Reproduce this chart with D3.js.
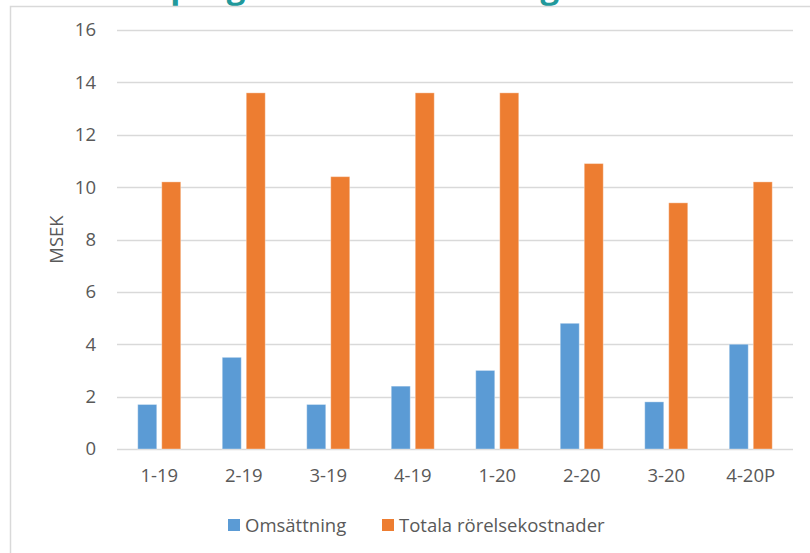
<!DOCTYPE html>
<html>
<head>
<meta charset="utf-8">
<script src="https://cdn.jsdelivr.net/npm/d3@7"></script>
<style>
  html, body { margin: 0; padding: 0; background: #fff; }
  svg { display: block; }
  text { font-family: "Open Sans", "Noto Sans", sans-serif; }
</style>
</head>
<body>
<svg id="chart" width="810" height="553"></svg>
<script>
// Quarterly figures, MSEK
const quarters = ["1-19", "2-19", "3-19", "4-19", "1-20", "2-20", "3-20", "4-20P"];
const omsattning = [1.7, 3.5, 1.7, 2.4, 3.0, 4.8, 1.8, 4.0];
const kostnader = [10.2, 13.6, 10.4, 13.6, 13.6, 10.9, 9.4, 10.2];
const seriesNames = ["Omsättning", "Totala rörelsekostnader"];
const seriesColors = ["#5b9bd5", "#ed7d31"];
const yTicks = [0, 2, 4, 6, 8, 10, 12, 14, 16];
const titleText = "Utfall och prognos för omsättning";

const svg = d3.select("#chart");
const W = 810, H = 553;
const FS = 18.5;

// Title sits above the chart frame
svg.append("text")
  .attr("x", 2)
  .attr("y", -2)
  .attr("fill", "#21999b")
  .attr("font-weight", "bold")
  .attr("font-size", 33)
  .text(titleText);

// Chart area frame
svg.append("rect")
  .attr("x", 10.5).attr("y", 6.5)
  .attr("width", W + 10).attr("height", H + 10)
  .attr("fill", "#fff")
  .attr("stroke", "#d9d9d9")
  .attr("stroke-width", 1.5);

const plot = { left: 117, right: 793, top: 30, bottom: 449 };

const x = d3.scaleBand().domain(quarters).range([plot.left, plot.right]).padding(0);
const y = d3.scaleLinear().domain([0, 16]).range([plot.bottom, plot.top]);

// Gridlines
svg.append("g")
  .selectAll("line")
  .data(yTicks)
  .join("line")
  .attr("x1", plot.left).attr("x2", plot.right)
  .attr("y1", d => Math.round(y(d)) + 0.5)
  .attr("y2", d => Math.round(y(d)) + 0.5)
  .attr("stroke", "#d9d9d9")
  .attr("stroke-width", 1.3);

// Y axis labels
const yAxis = d3.axisLeft(y).tickValues(yTicks).tickSize(0).tickPadding(21);
const gy = svg.append("g").attr("transform", `translate(${plot.left},0)`).call(yAxis);
gy.select(".domain").remove();
gy.selectAll("text")
  .attr("font-family", "'Open Sans', sans-serif")
  .attr("font-size", FS)
  .attr("fill", "#595959");

// X axis labels
const xAxis = d3.axisBottom(x).tickSize(0).tickPadding(20);
const gx = svg.append("g").attr("transform", `translate(0,${plot.bottom})`).call(xAxis);
gx.select(".domain").remove();
gx.selectAll("text")
  .attr("font-family", "'Open Sans', sans-serif")
  .attr("font-size", FS)
  .attr("fill", "#595959");

// Y axis title
svg.append("text")
  .attr("transform", `translate(63,${(plot.top + plot.bottom) / 2}) rotate(-90)`)
  .attr("text-anchor", "middle")
  .attr("font-size", FS)
  .attr("fill", "#595959")
  .text("MSEK");

// Bars: two per quarter, side by side around the band centre
const barW = 19, gap = 5;
const series = [omsattning, kostnader];
series.forEach((vals, si) => {
  svg.append("g")
    .selectAll("rect")
    .data(vals)
    .join("rect")
    .attr("x", (d, i) => x(quarters[i]) + x.bandwidth() / 2 + (si === 0 ? -(barW + gap / 2) : gap / 2))
    .attr("y", d => y(d))
    .attr("width", barW)
    .attr("height", d => y(0) - y(d))
    .attr("fill", seriesColors[si])
    .attr("stroke", "#ffffff")
    .attr("stroke-opacity", 0.35)
    .attr("stroke-width", 1);
});

// Legend
const legendItems = [
  { name: seriesNames[0], color: seriesColors[0], x: 228 },
  { name: seriesNames[1], color: seriesColors[1], x: 382 }
];
const lg = svg.append("g");
legendItems.forEach(it => {
  lg.append("rect")
    .attr("x", it.x).attr("y", 519)
    .attr("width", 12).attr("height", 12)
    .attr("fill", it.color);
  lg.append("text")
    .attr("x", it.x + 17).attr("y", 532)
    .attr("font-size", FS)
    .attr("fill", "#595959")
    .text(it.name);
});
</script>
</body>
</html>
